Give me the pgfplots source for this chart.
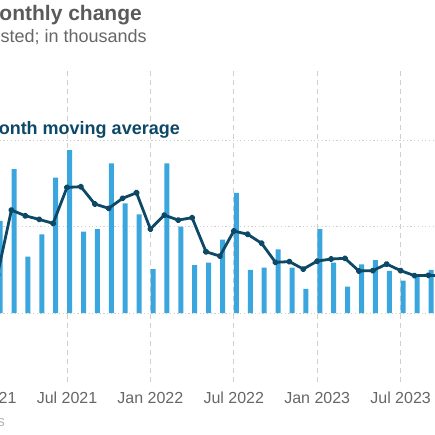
\documentclass[border=0pt]{standalone}
\usepackage{pgfplots}
\pgfplotsset{compat=1.18}
\usepackage{fontspec}
\setmainfont{Liberation Sans}
\definecolor{barblue}{HTML}{3AA6DD}
\definecolor{linenavy}{HTML}{0D4866}
\definecolor{titlegray}{HTML}{5A5A5A}
\definecolor{subgray}{HTML}{666666}
\definecolor{gridgray}{HTML}{CFCFCF}
\definecolor{srcgray}{HTML}{B5B5B5}
\begin{document}
\begin{tikzpicture}
\begin{scope}
\clip (0bp,-435bp) rectangle (435bp,0bp);
\begin{axis}[
  at={(-37.25bp,-382.2bp)}, anchor=south west,
  scale only axis, width=486.5bp, height=311.4bp,
  xmin=-1.5, xmax=33.5, ymin=-400, ymax=1400,
  axis line style={draw=none},
  tick style={draw=none},
  xtick={0,6,12,18,24,30},
  xticklabels={Jan 2021, Jul 2021, Jan 2022, Jul 2022, Jan 2023, Jul 2023},
  xticklabel style={anchor=base, yshift=-20.8bp, font=\fontsize{16bp}{19bp}\selectfont, text=subgray},
  ytick={0,500,1000},
  yticklabels={},
  xmajorgrids, ymajorgrids,
  x grid style={gridgray, dash pattern=on 5bp off 4bp, line width=0.8bp},
  y grid style={gridgray, dash pattern=on 1.2bp off 2.5bp, line width=1bp},
]
\addplot[ybar, bar width=5bp, bar shift=2.6bp, fill=barblue, draw=none] coordinates {
(0,420) (1,533) (2,832) (3,326) (4,455) (5,782) (6,942) (7,470) (8,485) (9,865)
(10,634) (11,570) (12,254) (13,865) (14,499) (15,277) (16,291) (17,424) (18,695) (19,249)
(20,262) (21,368) (22,263) (23,139) (24,485) (25,291) (26,152) (27,281) (28,306) (29,243)
(30,187) (31,216) (32,249) (33,180)
};
\addplot[linenavy, line width=2.8bp, mark=*, mark size=1.8bp, line join=round] coordinates {
(1,222) (2,595) (3,562) (4,541) (5,518) (6,726) (7,730) (8,630) (9,605) (10,663)
(11,695) (12,485) (13,566) (14,537) (15,551) (16,354) (17,329) (18,474) (19,455) (20,403)
(21,293) (22,297) (23,254) (24,300) (25,312) (26,316) (27,243) (28,245) (29,283) (30,245)
(31,216) (32,218) (33,215)
};
\end{axis}
\node[anchor=base east, inner sep=0pt, text=titlegray, font=\bfseries\fontsize{21bp}{25bp}\selectfont] at (142bp,-20bp) {Monthly change};
\node[anchor=base east, inner sep=0pt, text=subgray, font=\fontsize{18bp}{22bp}\selectfont] at (147bp,-42bp) {Seasonally adjusted; in thousands};
\node[anchor=base east, inner sep=0pt, text=linenavy, font=\bfseries\fontsize{18bp}{22bp}\selectfont] at (180bp,-134bp) {3-month moving average};
\node[anchor=base east, inner sep=0pt, text=srcgray, font=\fontsize{15bp}{18bp}\selectfont] at (5bp,-426bp) {Source: Bureau of Labor Statistics};
\end{scope}
\pgfresetboundingbox
\useasboundingbox (0bp,-435bp) rectangle (435bp,0bp);
\end{tikzpicture}
\end{document}
